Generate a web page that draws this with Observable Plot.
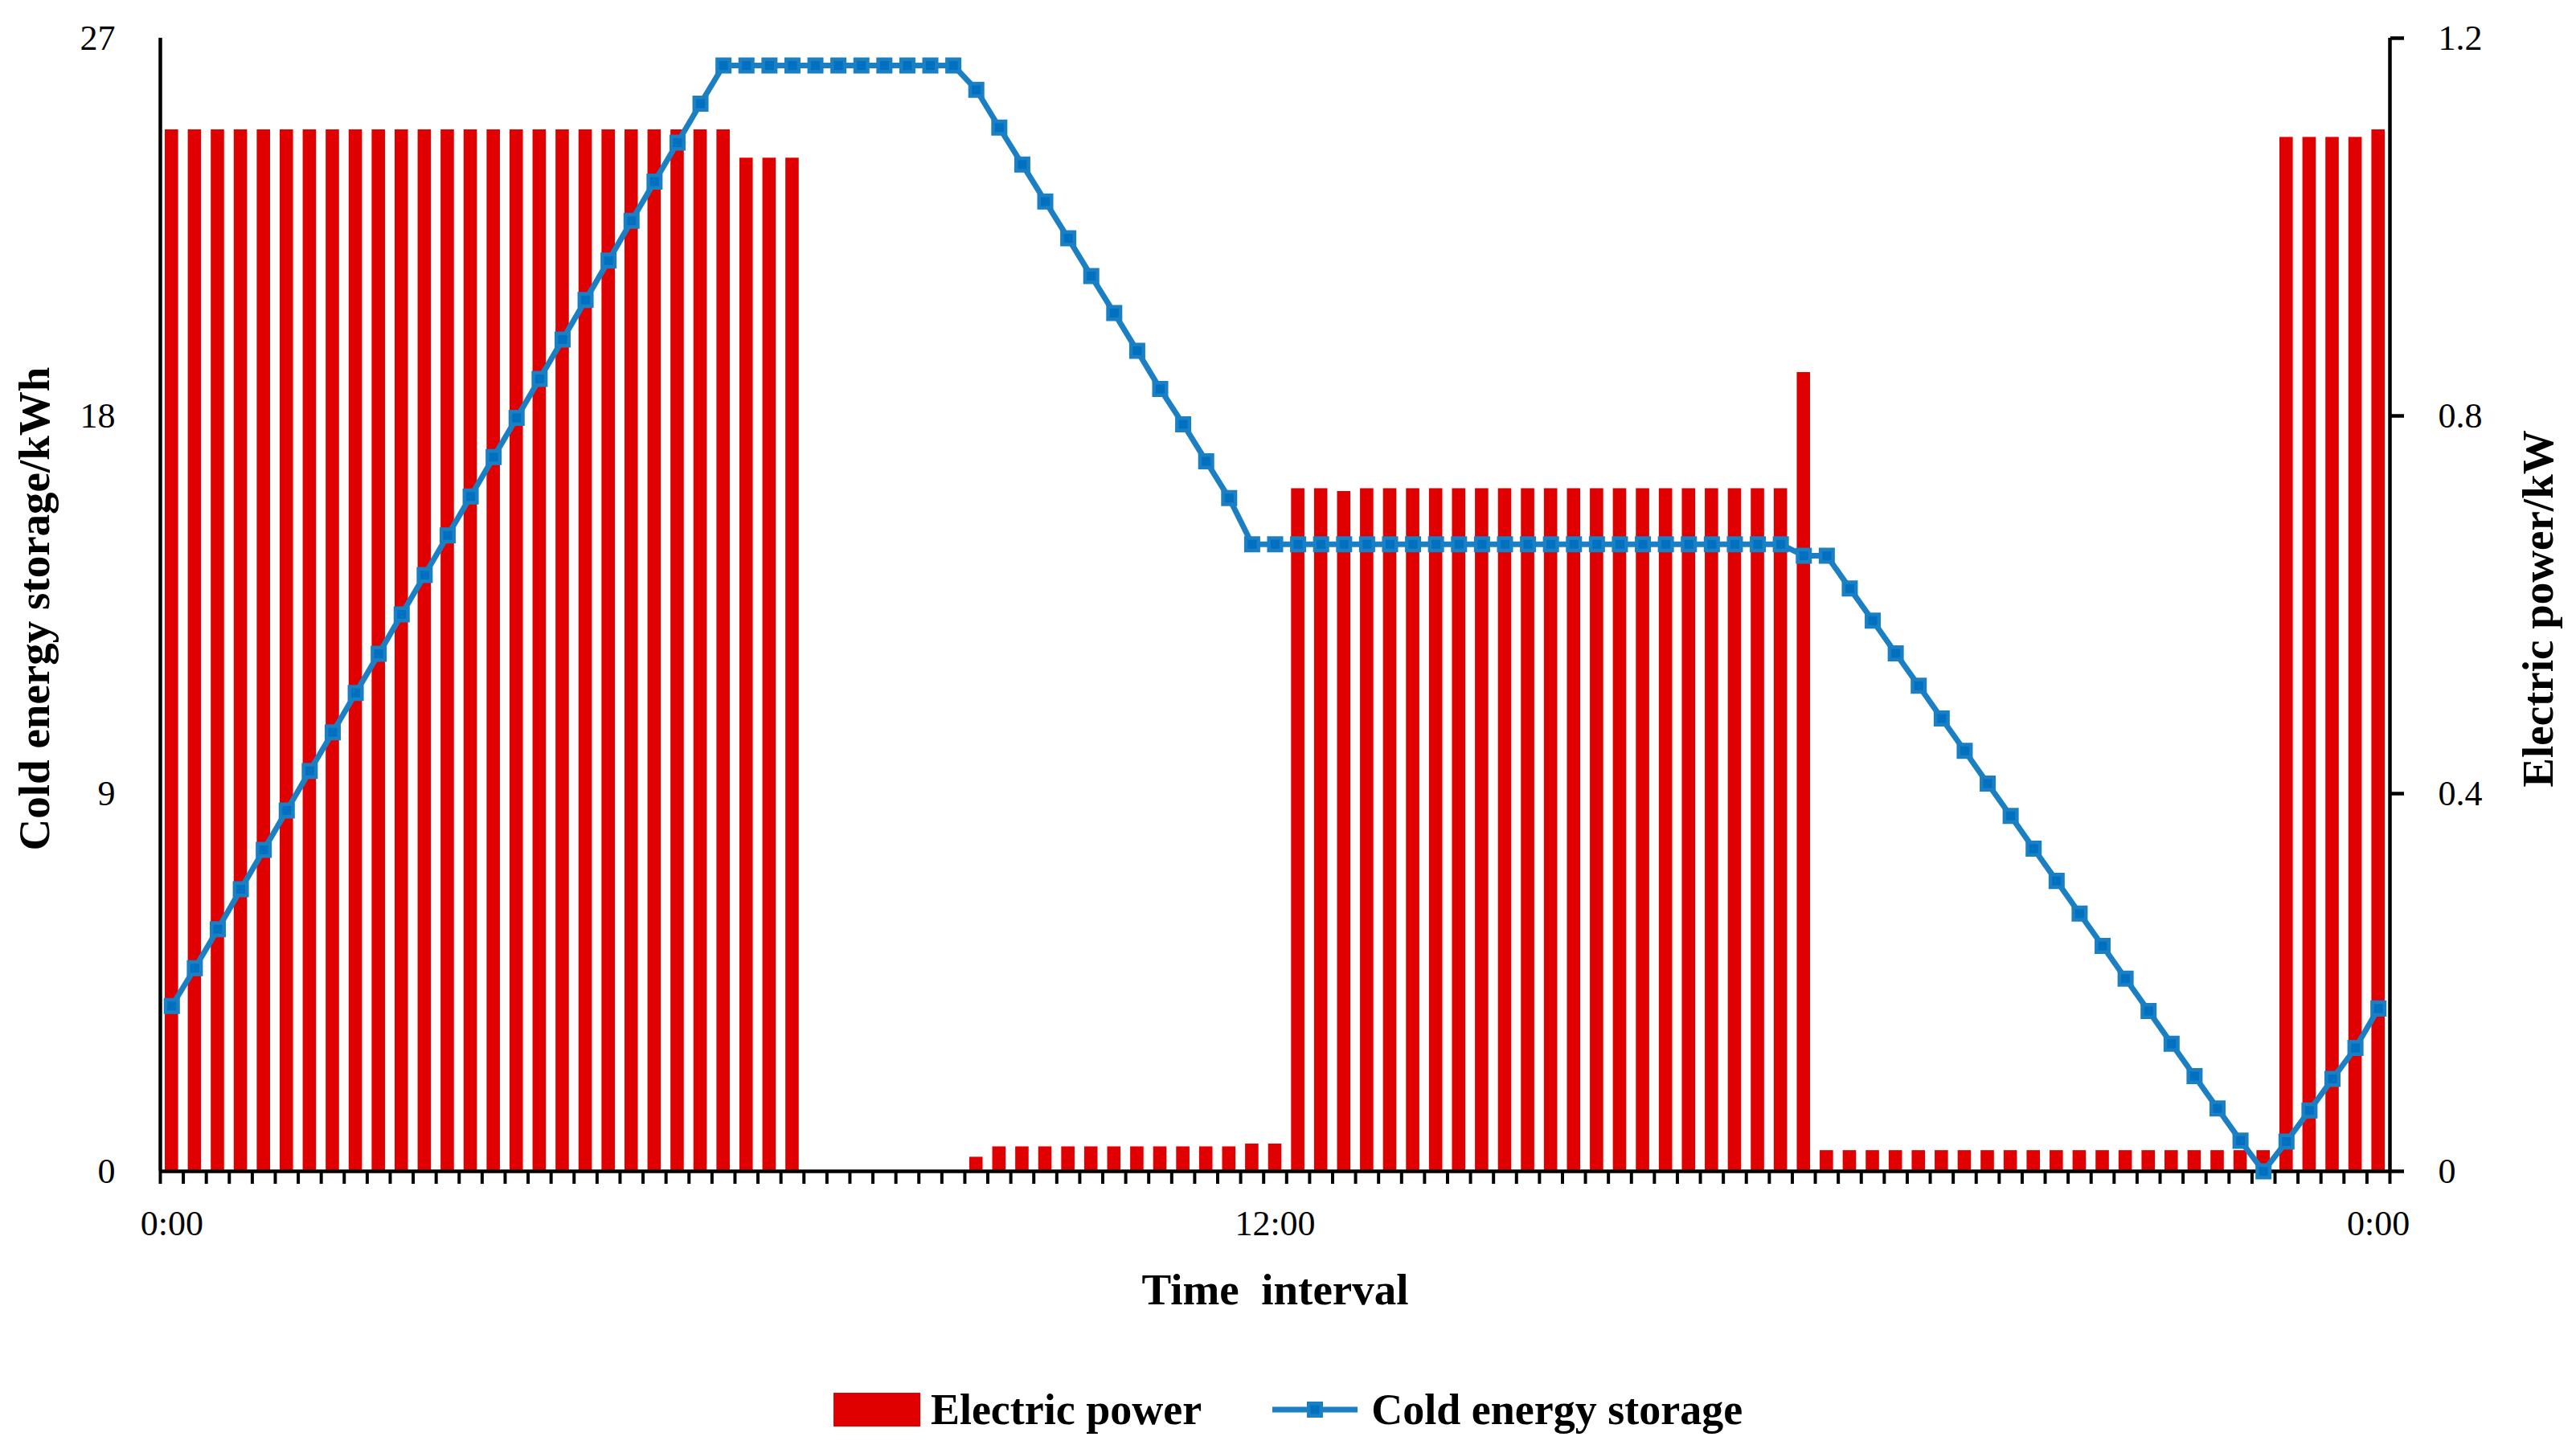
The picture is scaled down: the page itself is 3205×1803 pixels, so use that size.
<!DOCTYPE html>
<html>
<head>
<meta charset="utf-8">
<script src="https://cdn.jsdelivr.net/npm/d3@7"></script>
<script src="https://cdn.jsdelivr.net/npm/@observablehq/plot@0.6"></script>
<style>
  html, body { margin: 0; padding: 0; background: #fff; }
  body { width: 3205px; height: 1803px; overflow: hidden; font-family: "Liberation Serif", serif; }
  #legend { display: flex; justify-content: center; align-items: center; height: 148px; font: bold 54px "Liberation Serif", serif; color: #000; }
  #legend .bar { display: inline-block; width: 108px; height: 42px; background: #E00000; }
  #legend .t1 { margin-left: 13px; }
  #legend .ln { margin-left: 88px; display: block; }
  #legend .t2 { margin-left: 17px; }
</style>
</head>
<body>
<div id="chart"></div>
<div id="legend">
  <span class="bar"></span><span class="t1">Electric power</span>
  <svg class="ln" width="106" height="30" viewBox="0 0 106 30">
    <line x1="0" y1="15" x2="106" y2="15" stroke="#1B7FC4" stroke-width="7"/>
    <rect x="45.25" y="7.25" width="15.5" height="15.5" fill="#0070C0" stroke="#1B7FC4" stroke-width="4.5"/>
  </svg>
  <span class="t2">Cold energy storage</span>
</div>
<script>
// 15-minute time slots (97 slots, 0:00 to next 0:00)
const slotCount = 97;
const xTickSlots = [0, 48, 96];
const xTickLabels = ["0:00", "12:00", "0:00"];
const leftTicks = [0, 9, 18, 27];          // kWh
const rightTicks = [0, 0.4, 0.8, 1.2];     // kW

// Electric power, kW (bars)
const powerKW = [
  1.103, 1.103, 1.103, 1.103, 1.103, 1.103, 1.103, 1.103, 1.103, 1.103,
  1.103, 1.103, 1.103, 1.103, 1.103, 1.103, 1.103, 1.103, 1.103, 1.103,
  1.103, 1.103, 1.103, 1.103, 1.103,
  1.073, 1.073, 1.073,
  0, 0, 0, 0, 0, 0, 0,
  0.015,
  0.026, 0.026, 0.026, 0.026, 0.026, 0.026, 0.026, 0.026, 0.026, 0.026, 0.026,
  0.029, 0.029,
  0.723, 0.723, 0.720, 0.723, 0.723, 0.723, 0.723, 0.723, 0.723, 0.723, 0.723,
  0.723, 0.723, 0.723, 0.723, 0.723, 0.723, 0.723, 0.723, 0.723, 0.723, 0.723,
  0.846,
  0.022, 0.022, 0.022, 0.022, 0.022, 0.022, 0.022, 0.022, 0.022, 0.022,
  0.022, 0.022, 0.022, 0.022, 0.022, 0.022, 0.022, 0.022, 0.022, 0.022,
  1.095, 1.095, 1.095, 1.095,
  1.103
];

// Cold energy storage, kWh (line)
const storageKWh = [
  3.94, 4.84, 5.77, 6.72, 7.66, 8.60, 9.54, 10.46, 11.40, 12.33,
  13.27, 14.21, 15.15, 16.08, 17.02, 17.95, 18.88, 19.82, 20.76, 21.70,
  22.65, 23.58, 24.51, 25.44, 26.35,
  26.35, 26.35, 26.35, 26.35, 26.35, 26.35, 26.35, 26.35, 26.35, 26.35,
  25.77, 24.87, 23.99, 23.11, 22.23, 21.33, 20.45, 19.55, 18.64, 17.80, 16.92, 16.04,
  14.94, 14.94, 14.94, 14.94, 14.94, 14.94, 14.94, 14.94, 14.94, 14.94, 14.94, 14.94,
  14.94, 14.94, 14.94, 14.94, 14.94, 14.94, 14.94, 14.94, 14.94, 14.94, 14.94, 14.94,
  14.67, 14.67,
  13.89, 13.12, 12.34, 11.57, 10.79, 10.02, 9.24, 8.47, 7.69, 6.92,
  6.14, 5.37, 4.59, 3.82, 3.04, 2.27, 1.50, 0.73, 0,
  0.71, 1.45, 2.20, 2.94, 3.88
];

const kwToKwh = 27 / 1.2; // right axis (kW) mapped onto left axis (kWh) scale
const slots = d3.range(slotCount);
const rows = slots.map(i => ({slot: i, kw: powerKW[i], kwh: storageKWh[i]}));

const ink = "#000";
const font = "Liberation Serif";

const chart = Plot.plot({
  width: 3205,
  height: 1680,
  marginLeft: 199,
  marginRight: 232,
  marginTop: 47,
  marginBottom: 223,
  style: {fontFamily: font, background: "#fff", color: ink, overflow: "visible"},
  x: {type: "linear", domain: [0, slotCount]},
  y: {domain: [0, 27]},
  marks: [
    Plot.rectY(rows, {
      x1: d => d.slot, x2: d => d.slot + 1,
      y: d => d.kw * kwToKwh,
      fill: "#E00000", insetLeft: 6, insetRight: 6
    }),
    // x-axis tick marks at slot boundaries
    Plot.axisX({ticks: d3.range(slotCount + 1), tickSize: 16, tickFormat: () => "", strokeWidth: 4, stroke: ink, label: null}),
    // x-axis labels centered in slots
    Plot.text(xTickSlots, {
      x: d => d + 0.5, frameAnchor: "bottom", lineAnchor: "middle", dy: 65,
      text: (d, i) => xTickLabels[i], fontSize: 44, fill: ink
    }),
    // left axis
    Plot.axisY({anchor: "left", ticks: leftTicks, tickSize: 0, tickPadding: 56, fontSize: 44, label: null, fill: ink}),
    // right axis (kW)
    Plot.axisY({
      anchor: "right", ticks: rightTicks.map(v => v * kwToKwh),
      tickFormat: d => String(+(d / kwToKwh).toFixed(1)),
      tickSize: 17, tickPadding: 43, strokeWidth: 4.5, stroke: ink, fontSize: 44, label: null, fill: ink
    }),
    // axis lines
    Plot.ruleX([0, slotCount], {stroke: ink, strokeWidth: 4.5}),
    Plot.ruleY([0], {stroke: ink, strokeWidth: 4.5}),
    // storage line
    Plot.lineY(rows, {x: d => d.slot + 0.5, y: "kwh", stroke: "#1B7FC4", strokeWidth: 7}),
    Plot.dot(rows, {x: d => d.slot + 0.5, y: "kwh", symbol: "square", r: 8.75, fill: "#0070C0", stroke: "#1B7FC4", strokeWidth: 4.5}),
    // axis titles
    Plot.text(["Cold energy storage/kWh"], {frameAnchor: "left", textAnchor: "middle", lineAnchor: "middle", rotate: -90, dx: -156, dy: 5, text: d => d, fontSize: 55, fontWeight: "bold", fill: ink}),
    Plot.text(["Electric power/kW"], {frameAnchor: "right", textAnchor: "middle", lineAnchor: "middle", rotate: -90, dx: 185, dy: 5, text: d => d, fontSize: 55, fontWeight: "bold", fill: ink}),
    Plot.text(["Time\u00a0 interval"], {frameAnchor: "bottom", textAnchor: "middle", lineAnchor: "middle", dy: 148, text: d => d, fontSize: 55, fontWeight: "bold", fill: ink})
  ]
});
document.getElementById("chart").appendChild(chart);
</script>
</body>
</html>
